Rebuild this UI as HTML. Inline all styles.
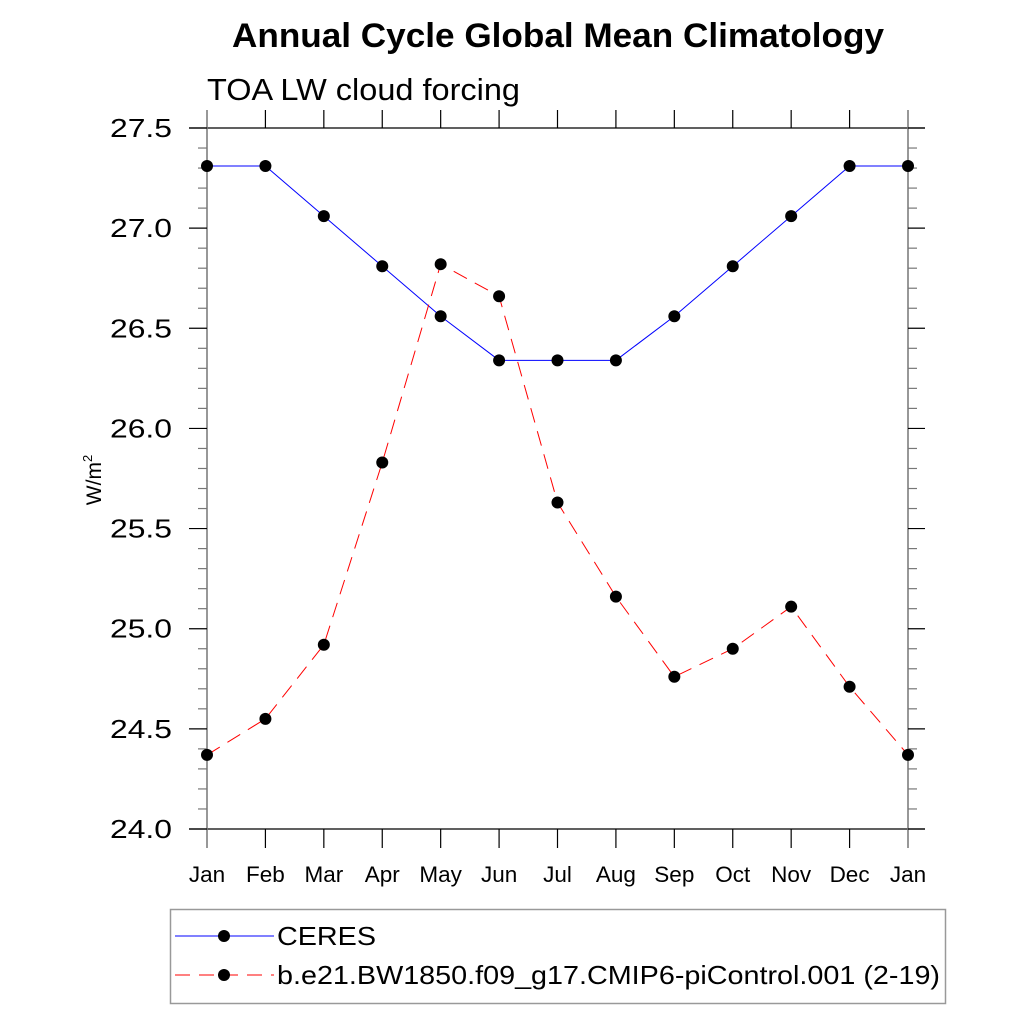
<!DOCTYPE html>
<html><head><meta charset="utf-8"><style>
body{margin:0;background:#fff;}
svg{display:block;font-family:"Liberation Sans",sans-serif;}
</style></head><body>
<svg id="c" width="1024" height="1024" viewBox="0 0 1024 1024">
<text x="232" y="47" font-size="34" font-weight="bold" textLength="652" lengthAdjust="spacingAndGlyphs">Annual Cycle Global Mean Climatology</text>
<text x="207" y="100" font-size="31" textLength="313" lengthAdjust="spacingAndGlyphs">TOA LW cloud forcing</text>
<text transform="translate(101,480) rotate(-90)" text-anchor="middle" font-size="21">W/m<tspan dy="-9" font-size="13">2</tspan></text>
<g id="axes"></g>
<g id="series"></g>
<g>
<rect x="170.5" y="909.5" width="775" height="94" fill="#fff" stroke="#999" stroke-width="1.5"/>
<g>
<line x1="175" y1="936" x2="274" y2="936" stroke="#00f" stroke-width="1"/>
<circle cx="224" cy="936" r="6" fill="#000"/>
<text x="277" y="945" font-size="26" textLength="99" lengthAdjust="spacingAndGlyphs">CERES</text></g>
<g>
<line x1="175" y1="975" x2="274" y2="975" stroke="#f00" stroke-width="1" stroke-dasharray="15,9"/>
<circle cx="224" cy="975" r="6" fill="#000"/>
<text x="277" y="984" font-size="26" textLength="663" lengthAdjust="spacingAndGlyphs">b.e21.BW1850.f09_g17.CMIP6-piControl.001 (2-19)</text></g>
</g>
</svg>
<script>
const months=["Jan","Feb","Mar","Apr","May","Jun","Jul","Aug","Sep","Oct","Nov","Dec","Jan"];
const ceres=[27.31,27.31,27.06,26.81,26.56,26.34,26.34,26.34,26.56,26.81,27.06,27.31,27.31];
const model=[24.37,24.55,24.92,25.83,26.82,26.66,25.63,25.16,24.76,24.90,25.11,24.71,24.37];
const yTicks=["24.0","24.5","25.0","25.5","26.0","26.5","27.0","27.5"];
const NS="http://www.w3.org/2000/svg";
const x0=207,x1=908,yTop=128,yBot=829,yMin=24,yMax=27.5;
function X(i){return x0+(x1-x0)*i/(months.length-1);}
function Y(v){return yBot-(v-yMin)/(yMax-yMin)*(yBot-yTop);}
function mk(tag,attrs,parent){const e=document.createElementNS(NS,tag);for(const k in attrs)e.setAttribute(k,attrs[k]);parent.appendChild(e);return e;}
const ax=document.getElementById('axes');
let e;
e=mk('line',{x1:189,y1:yTop,x2:925,y2:yTop,stroke:'#000','stroke-width':1.3},ax);


e=mk('line',{x1:189,y1:yBot,x2:925,y2:yBot,stroke:'#000','stroke-width':1.3},ax);


months.forEach((m,i)=>{
  const x=X(i);
  const edge=(i==0||i==months.length-1);
  if(edge){
    e=mk('line',{x1:x,y1:110,x2:x,y2:848,stroke:'#777','stroke-width':1.5},ax);
  } else {
    mk('line',{x1:x,y1:110,x2:x,y2:yTop,stroke:'#000','stroke-width':1.2},ax);
    e=mk('line',{x1:x,y1:yBot,x2:x,y2:848,stroke:'#000','stroke-width':1.2},ax);
  }
  
  
  e=mk('text',{x:x,y:882,'text-anchor':'middle','font-size':22.5},ax);
  e.textContent=m;
  
  
});
for(let k=0;k<=35;k++){
  const v=yMin+k*0.1,y=Y(v),maj=(k%5==0);
  mk('line',{x1:maj?189:198,y1:y,x2:x0,y2:y,stroke:maj?'#000':'#777','stroke-width':1.2},ax);
  e=mk('line',{x1:x1,y1:y,x2:maj?925:917,y2:y,stroke:maj?'#000':'#777','stroke-width':1.2},ax);
  
  
}
yTicks.forEach(t=>{
  e=mk('text',{x:110,y:Y(parseFloat(t))+9,'font-size':26,textLength:62,lengthAdjust:'spacingAndGlyphs'},ax);
  e.textContent=t;
  
  
});
const sg=document.getElementById('series');
function series(vals,color,dash,name){
  const g=mk('g',{},sg);
  
  
  const p=mk('polyline',{points:vals.map((v,i)=>X(i)+','+Y(v)).join(' '),fill:'none',stroke:color,'stroke-width':1,'stroke-dasharray':dash},g);
  
  
  vals.forEach((v,i)=>{
    const c=mk('circle',{cx:X(i),cy:Y(v),r:6,fill:'#000'},g);
    
    
  });
}
series(ceres,'#00f','none','ceres-series');
series(model,'#f00','15,9','model-series');
</script>
</body></html>
